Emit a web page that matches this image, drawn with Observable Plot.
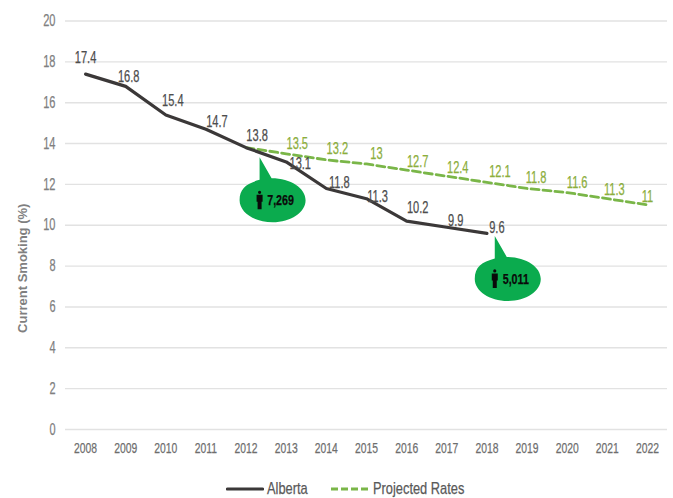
<!DOCTYPE html>
<html>
<head>
<meta charset="utf-8">
<script src="https://cdn.jsdelivr.net/npm/d3@7"></script>
<script src="https://cdn.jsdelivr.net/npm/@observablehq/plot@0.6"></script>
<style>
  html, body { margin: 0; padding: 0; background: #fff; }
  #chart svg { display: block; opacity: 0.999; will-change: opacity; }
  .legend { position: relative; height: 28px; width: 673px; font: 17px "Liberation Sans", sans-serif; color: #595959; }
  .legend span { position: absolute; top: 9px; line-height: 20px; white-space: nowrap; transform: scaleX(0.755); transform-origin: left center; -webkit-text-stroke: 0.25px #595959; }
  .legend svg { position: absolute; top: 16px; }
</style>
</head>
<body>
<div id="chart"></div>
<div class="legend">
  <svg style="left:226px" width="38" height="6"><line x1="1.5" x2="36.5" y1="3" y2="3" stroke="#3b3838" stroke-width="3.2" stroke-linecap="round"/></svg>
  <span style="left:267px">Alberta</span>
  <svg style="left:331px" width="38" height="6"><line x1="0" x2="38" y1="3" y2="3" stroke="#7ab648" stroke-width="2.8" stroke-dasharray="7 3"/></svg>
  <span style="left:373px">Projected Rates</span>
</div>
<script>
// Adult current smoking rates in Alberta and the projected path to 2022.
const years = [2008, 2009, 2010, 2011, 2012, 2013, 2014, 2015, 2016, 2017, 2018, 2019, 2020, 2021, 2022];
const albertaYears = [2008, 2009, 2010, 2011, 2012, 2013, 2014, 2015, 2016, 2017, 2018];
const albertaRates = [17.4, 16.8, 15.4, 14.7, 13.8, 13.1, 11.8, 11.3, 10.2, 9.9, 9.6];
const projectedYears = [2012, 2013, 2014, 2015, 2016, 2017, 2018, 2019, 2020, 2021, 2022];
const projectedRates = [13.8, 13.5, 13.2, 13, 12.7, 12.4, 12.1, 11.8, 11.6, 11.3, 11];
const calloutYears = [2012.66, 2018.52];
const calloutRates = [11.22, 7.37];
const calloutCounts = ["7,269", "5,011"];

// Label placement relative to each point, in pixels.
const albertaNudge = [[0,-16],[3,-9],[7,-14],[11,-7],[11,-12],[14,2],[13,-6],[11,-2],[11,-13],[9,-6],[10,-6]];
const projectedNudge = [null,[11,-10],[11,-11],[10,-10],[11,-8],[11,-8],[13,-10],[9,-11],[10,-10],[7,-9],[0,-8]];

const width = 673, height = 470;
const margin = {top: 20.5, right: 6, bottom: 41, left: 65};
const pxPerYear = (width - margin.left - margin.right) / 15;
const pxPerPoint = (height - margin.top - margin.bottom) / 20;

const alberta = albertaYears.map((year, i) => ({year, rate: albertaRates[i], nudge: albertaNudge[i]}));
const projected = projectedYears.map((year, i) => ({year, rate: projectedRates[i], nudge: projectedNudge[i]}));
const callouts = calloutYears.map((year, i) => ({year, rate: calloutRates[i], count: calloutCounts[i]}));

const nudgedX = d => d.year + d.nudge[0] / pxPerYear;
const nudgedY = d => d.rate - d.nudge[1] / pxPerPoint;

// Speech bubble: an ellipse with a pointer rising to the upper left.
const bubble = {
  draw(ctx) {
    const rx = 33, ry = 22, k = 0.5523;
    ctx.moveTo(-13, -43);
    ctx.lineTo(-1, -22);
    ctx.bezierCurveTo(k * rx, -ry, rx, -k * ry, rx, 0);
    ctx.bezierCurveTo(rx, k * ry, k * rx, ry, 0, ry);
    ctx.bezierCurveTo(-k * rx, ry, -rx, k * ry, -rx, 0);
    ctx.bezierCurveTo(-rx, -k * ry, -26, -17, -13, -20.5);
    ctx.closePath();
  }
};

// Small standing figure beside each count.
const person = {
  draw(ctx) {
    const x = -13;
    ctx.moveTo(x + 1.6, -8);
    ctx.arc(x, -8, 1.6, 0, 2 * Math.PI);
    ctx.closePath();
    ctx.moveTo(x - 3, -5.5);
    ctx.lineTo(x + 3, -5.5);
    ctx.lineTo(x + 3, 1.5);
    ctx.lineTo(x + 2, 1.5);
    ctx.lineTo(x + 2, 9);
    ctx.lineTo(x - 2, 9);
    ctx.lineTo(x - 2, 1.5);
    ctx.lineTo(x - 3, 1.5);
    ctx.closePath();
  }
};

const sans = '"Liberation Sans", sans-serif';
const axisTitle = "Current Smoking (%)";

const chart = Plot.plot({
  width, height,
  marginTop: margin.top, marginRight: margin.right, marginBottom: margin.bottom, marginLeft: margin.left,
  style: {background: "#fff", fontFamily: sans},
  x: {domain: [2007.5, 2022.5], label: null},
  y: {domain: [0, 20], label: null},
  marks: [
    Plot.ruleY(d3.range(0, 21, 2), {stroke: "#e2e2e2", strokeWidth: 1.4}),
    Plot.axisX({ticks: years, tickFormat: d => String(d), tickSize: 0, tickPadding: 13, fontSize: 15, fill: "#6e6e6e", label: null, lineAnchor: "top", marginBottom: 41}),
    Plot.axisY({ticks: d3.range(0, 21, 2), tickSize: 0, tickPadding: 10, fontSize: 16, fill: "#808080", label: null}),
    Plot.line(projected, {x: "year", y: "rate", stroke: "#7ab648", strokeWidth: 2.8, strokeDasharray: "8 4"}),
    Plot.line(alberta, {x: "year", y: "rate", stroke: "#3b3838", strokeWidth: 3.2, strokeLinecap: "round", strokeLinejoin: "round"}),
    Plot.text(alberta, {x: nudgedX, y: nudgedY, text: d => String(d.rate), fontSize: 16, fill: "#4d4d4d"}),
    Plot.text(projected.filter(d => d.nudge), {x: nudgedX, y: nudgedY, text: d => String(d.rate), fontSize: 16, fill: "#8cae3c"}),
    Plot.dot(callouts, {x: "year", y: "rate", symbol: bubble, r: 1, fill: "#0bab4e", stroke: "none"}),
    Plot.dot(callouts, {x: "year", y: "rate", symbol: person, r: 1, fill: "#0a0a0a", stroke: "none"}),
    Plot.text(callouts, {x: "year", y: "rate", text: "count", dx: 8, fontSize: 15.5, fontWeight: 700, fill: "#0a0a0a"}),
    Plot.text([axisTitle], {frameAnchor: "left", textAnchor: "middle", dx: -43, dy: 43, text: d => d, rotate: -90, fontSize: 13, fontWeight: 700, fill: "#7f7f7f"})
  ]
});
document.getElementById("chart").append(chart);

// The chart's lettering is condensed and slightly heavy; adjust every label except the axis title.
chart.querySelectorAll("text").forEach(t => {
  if (t.textContent === axisTitle) return;
  t.setAttribute("lengthAdjust", "spacingAndGlyphs");
  t.setAttribute("textLength", (t.getComputedTextLength() * 0.69).toFixed(1));
  t.style.stroke = getComputedStyle(t).fill;
  t.style.strokeWidth = "0.25px";
});
</script>
</body>
</html>
